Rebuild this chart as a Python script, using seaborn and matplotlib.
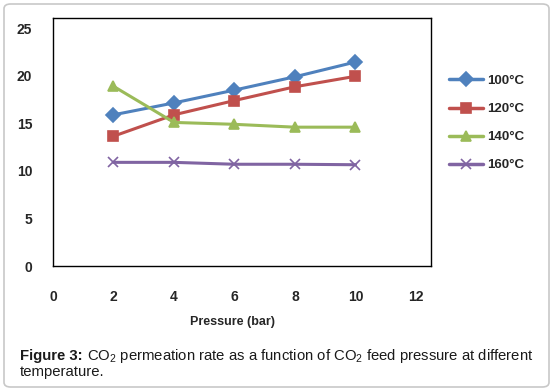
import matplotlib
matplotlib.use("Agg")
import matplotlib.pyplot as plt
from matplotlib.patches import FancyBboxPatch
from matplotlib.lines import Line2D
import seaborn as sns
import pandas as pd

pressure = [2, 4, 6, 8, 10]
temps = ["100°C", "120°C", "140°C", "160°C"]
vals_100 = [15.9, 17.15, 18.5, 19.9, 21.45]
vals_120 = [13.65, 15.9, 17.4, 18.85, 19.95]
vals_140 = [18.9, 15.1, 14.9, 14.6, 14.6]
vals_160 = [10.9, 10.9, 10.7, 10.7, 10.65]
x_ticks = [0, 2, 4, 6, 8, 10, 12]
y_ticks = [0, 5, 10, 15, 20, 25]

colors = ["#4F81BD", "#C0504D", "#9BBB59", "#8064A2"]
markers = ["D", "s", "^", "x"]

sns.set_theme(style="white")
plt.rcParams['font.family'] = ['Liberation Sans', 'DejaVu Sans']
plt.rcParams['mathtext.fontset'] = 'custom'
plt.rcParams['mathtext.rm'] = 'Liberation Sans'
plt.rcParams['mathtext.bf'] = 'Liberation Sans:bold'

fig = plt.figure(figsize=(5.53, 3.91), dpi=100)
fig.patch.set_facecolor("white")
border = FancyBboxPatch((4/553, 4/391), 545/553, 383/391,
                        boxstyle="round,pad=0,rounding_size=0.012",
                        transform=fig.transFigure, facecolor="white",
                        edgecolor="#C8C8C8", linewidth=1.2, zorder=-10)
fig.patches.append(border)

ax = fig.add_axes([53/553, 1 - 266/391, (431 - 53)/553, (266 - 18.3)/391])
for t, vals, c, m in zip(temps, [vals_100, vals_120, vals_140, vals_160], colors, markers):
    d = pd.DataFrame({"Pressure": pressure, "Rate": vals})
    sns.lineplot(data=d, x="Pressure", y="Rate", color=c, marker=m, ax=ax,
                 linewidth=2.2, markersize=7, markeredgewidth=1.2,
                 markeredgecolor=c, markerfacecolor=c, label=t, legend=False)

ax.set_xlim(0, 12.5)
ax.set_ylim(0, 26.05)
ax.set_xticks(x_ticks)
ax.set_yticks(y_ticks)
ax.set_xticklabels([str(v) for v in x_ticks], fontweight="bold", fontsize=10)
ax.set_yticklabels([str(v) for v in y_ticks], fontweight="bold", fontsize=10)
ax.tick_params(axis="x", length=0, pad=17)
ax.tick_params(axis="y", length=0, pad=15)
for s in ax.spines.values():
    s.set_color("black")
    s.set_linewidth(1.0)
ax.set_xlabel("")
ax.set_ylabel("")

handles = [Line2D([0], [0], color=c, marker=m, linewidth=2.5, markersize=7,
                  markeredgecolor=c, markerfacecolor=c, markeredgewidth=1.2)
           for c, m in zip(colors, markers)]
fig.legend(handles, temps, loc="upper left", bbox_to_anchor=(437/553, 1 - 63/391),
           frameon=False, prop={"weight": "bold", "size": 9.5},
           handlelength=2.6, handletextpad=0.3, labelspacing=1.2)

fig.text(232/553, 1 - 322/391, "Pressure (bar)", ha="center", va="center",
         fontsize=9, fontweight="bold")
t1 = fig.text(20/553, 1 - 356/391, "Figure 3:", ha="left", va="center",
              fontsize=10.7, fontweight="bold", color="#1a1a1a")
ax.annotate(" CO$_2$ permeation rate as a function of CO$_2$ feed pressure at different",
            xy=(1, 0.5), xycoords=t1, ha="left", va="center",
            fontsize=10.7, color="#1a1a1a", annotation_clip=False)
fig.text(20/553, 1 - 372/391, "temperature.", ha="left", va="center",
         fontsize=10.7, color="#1a1a1a")

fig.savefig("out.png", dpi=100)
